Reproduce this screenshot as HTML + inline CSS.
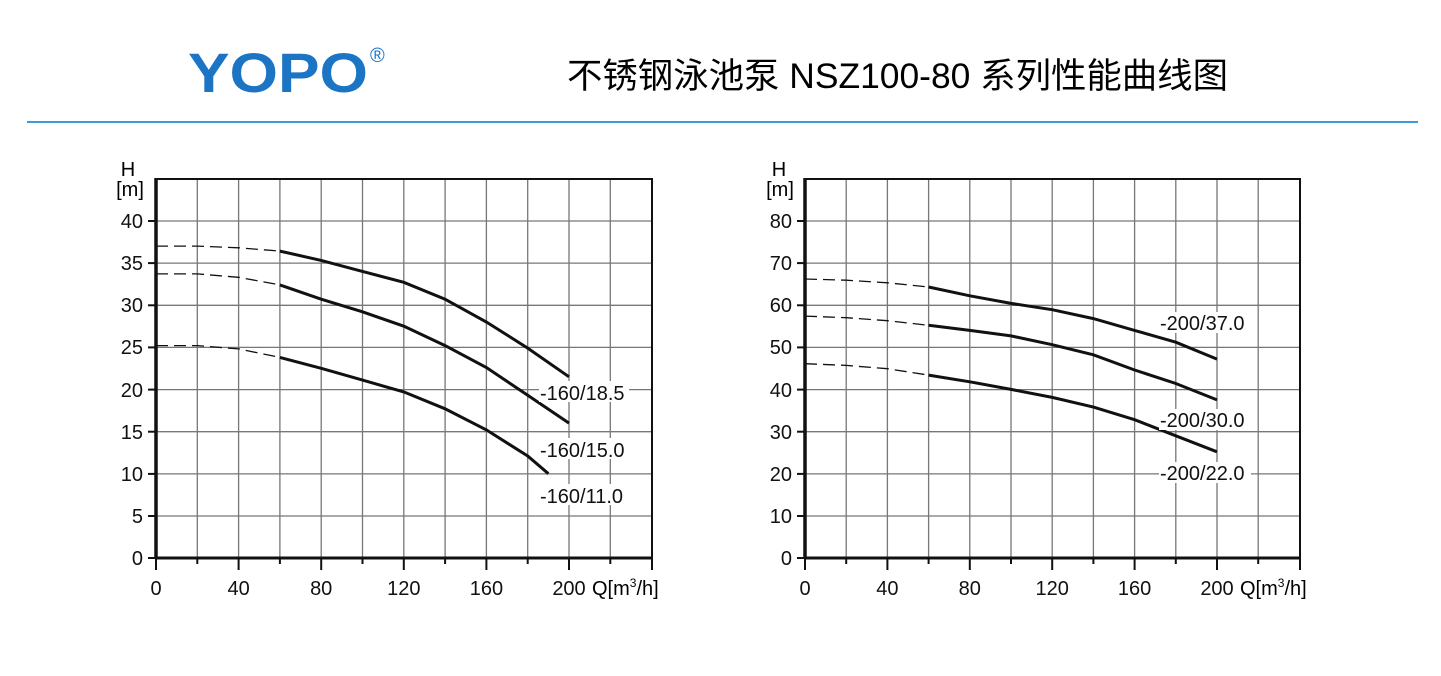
<!DOCTYPE html>
<html><head><meta charset="utf-8"><style>
body{margin:0;background:#fff;}
svg{display:block}
</style></head><body>
<svg width="1441" height="676" xmlns="http://www.w3.org/2000/svg" font-family="Liberation Sans, Arial, sans-serif">
<rect width="1441" height="676" fill="#fff"/>
<text x="188" y="92" font-size="56" font-weight="bold" fill="#1b75c4" textLength="180" lengthAdjust="spacingAndGlyphs">YOPO</text>
<text x="370" y="62" font-size="20" fill="#1b75c4">®</text>
<text x="567" y="88" font-size="35" fill="#000" textLength="661" lengthAdjust="spacingAndGlyphs" font-family="Liberation Sans, Noto Sans CJK SC, sans-serif">不锈钢泳池泵 NSZ100-80 系列性能曲线图</text>
<line x1="27" y1="122" x2="1418" y2="122" stroke="#3d9bd6" stroke-width="2"/>

<!-- LEFT CHART -->
<g stroke="#777" stroke-width="1.3">
<line x1="197.3" y1="179" x2="197.3" y2="558"/><line x1="238.6" y1="179" x2="238.6" y2="558"/><line x1="279.9" y1="179" x2="279.9" y2="558"/><line x1="321.2" y1="179" x2="321.2" y2="558"/><line x1="362.5" y1="179" x2="362.5" y2="558"/><line x1="403.8" y1="179" x2="403.8" y2="558"/><line x1="445.1" y1="179" x2="445.1" y2="558"/><line x1="486.4" y1="179" x2="486.4" y2="558"/><line x1="527.7" y1="179" x2="527.7" y2="558"/><line x1="569" y1="179" x2="569" y2="558"/><line x1="610.3" y1="179" x2="610.3" y2="558"/>
<line x1="156" y1="221" x2="652" y2="221"/><line x1="156" y1="263.1" x2="652" y2="263.1"/><line x1="156" y1="305.3" x2="652" y2="305.3"/><line x1="156" y1="347.4" x2="652" y2="347.4"/><line x1="156" y1="389.6" x2="652" y2="389.6"/><line x1="156" y1="431.7" x2="652" y2="431.7"/><line x1="156" y1="473.9" x2="652" y2="473.9"/><line x1="156" y1="516" x2="652" y2="516"/>
</g>
<rect x="156" y="179" width="496" height="379" fill="none" stroke="#111" stroke-width="2"/>
<line x1="156" y1="178" x2="156" y2="559" stroke="#111" stroke-width="3.5"/>
<line x1="155" y1="558" x2="653" y2="558" stroke="#111" stroke-width="3"/>
<g stroke="#111" stroke-width="2">
<line x1="148" y1="221" x2="156" y2="221"/><line x1="148" y1="263.1" x2="156" y2="263.1"/><line x1="148" y1="305.3" x2="156" y2="305.3"/><line x1="148" y1="347.4" x2="156" y2="347.4"/><line x1="148" y1="389.6" x2="156" y2="389.6"/><line x1="148" y1="431.7" x2="156" y2="431.7"/><line x1="148" y1="473.9" x2="156" y2="473.9"/><line x1="148" y1="516" x2="156" y2="516"/><line x1="148" y1="558" x2="156" y2="558"/>
<line x1="156" y1="558" x2="156" y2="570"/><line x1="197.3" y1="558" x2="197.3" y2="564"/><line x1="238.6" y1="558" x2="238.6" y2="570"/><line x1="279.9" y1="558" x2="279.9" y2="564"/><line x1="321.2" y1="558" x2="321.2" y2="570"/><line x1="362.5" y1="558" x2="362.5" y2="564"/><line x1="403.8" y1="558" x2="403.8" y2="570"/><line x1="445.1" y1="558" x2="445.1" y2="564"/><line x1="486.4" y1="558" x2="486.4" y2="570"/><line x1="527.7" y1="558" x2="527.7" y2="564"/><line x1="569" y1="558" x2="569" y2="570"/><line x1="610.3" y1="558" x2="610.3" y2="564"/><line x1="652" y1="558" x2="652" y2="570"/>
</g>
<g font-size="20" fill="#111" text-anchor="end">
<text x="143" y="228">40</text><text x="143" y="270">35</text><text x="143" y="312">30</text><text x="143" y="354">25</text><text x="143" y="397">20</text><text x="143" y="439">15</text><text x="143" y="481">10</text><text x="143" y="523">5</text><text x="143" y="565">0</text>
</g>
<text x="128" y="176" font-size="20" text-anchor="middle">H</text>
<text x="130" y="196" font-size="20" text-anchor="middle">[m]</text>
<g font-size="20" fill="#111" text-anchor="middle">
<text x="156" y="595">0</text><text x="238.6" y="595">40</text><text x="321.2" y="595">80</text><text x="403.8" y="595">120</text><text x="486.4" y="595">160</text><text x="569" y="595">200</text>
</g>
<text x="592" y="595" font-size="20">Q[m<tspan font-size="12" dy="-8">3</tspan><tspan dy="8">/h]</tspan></text>
<g fill="none" stroke="#111">
<polyline stroke-width="1.3" stroke-dasharray="12,6" points="156,246.1 197.3,246.1 238.6,247.8 279.9,251.1"/>
<polyline stroke-width="3" points="279.9,251.1 321.2,260.4 362.5,271.4 403.8,282.3 445.1,299.2 486.4,322 527.7,348.1 569,376.8"/>
<polyline stroke-width="1.3" stroke-dasharray="12,6" points="156,273.9 197.3,273.9 238.6,277.3 279.9,284.9"/>
<polyline stroke-width="3" points="279.9,284.9 321.2,299.2 362.5,311.8 403.8,326.2 445.1,345.6 486.4,367.5 527.7,395.3 569,423.1"/>
<polyline stroke-width="1.3" stroke-dasharray="12,6" points="156,345.6 197.3,345.6 238.6,348.9 279.9,357.4"/>
<polyline stroke-width="3" points="279.9,357.4 321.2,368.3 362.5,380.1 403.8,391.9 445.1,408.8 486.4,429.9 527.7,456 548.4,473.7"/>
</g>
<g font-size="20" fill="#111">
<rect x="539" y="381" width="90" height="21" fill="#fff"/><text x="540" y="400">-160/18.5</text>
<rect x="539" y="438" width="90" height="21" fill="#fff"/><text x="540" y="457">-160/15.0</text>
<rect x="539" y="484" width="90" height="21" fill="#fff"/><text x="540" y="503">-160/11.0</text>
</g>

<!-- RIGHT CHART -->
<g stroke="#777" stroke-width="1.3">
<line x1="846.2" y1="179" x2="846.2" y2="558"/><line x1="887.4" y1="179" x2="887.4" y2="558"/><line x1="928.6" y1="179" x2="928.6" y2="558"/><line x1="969.8" y1="179" x2="969.8" y2="558"/><line x1="1011" y1="179" x2="1011" y2="558"/><line x1="1052.2" y1="179" x2="1052.2" y2="558"/><line x1="1093.4" y1="179" x2="1093.4" y2="558"/><line x1="1134.6" y1="179" x2="1134.6" y2="558"/><line x1="1175.8" y1="179" x2="1175.8" y2="558"/><line x1="1217" y1="179" x2="1217" y2="558"/><line x1="1258.2" y1="179" x2="1258.2" y2="558"/>
<line x1="805" y1="221" x2="1300" y2="221"/><line x1="805" y1="263.1" x2="1300" y2="263.1"/><line x1="805" y1="305.3" x2="1300" y2="305.3"/><line x1="805" y1="347.4" x2="1300" y2="347.4"/><line x1="805" y1="389.6" x2="1300" y2="389.6"/><line x1="805" y1="431.7" x2="1300" y2="431.7"/><line x1="805" y1="473.9" x2="1300" y2="473.9"/><line x1="805" y1="516" x2="1300" y2="516"/>
</g>
<rect x="805" y="179" width="495" height="379" fill="none" stroke="#111" stroke-width="2"/>
<line x1="805" y1="178" x2="805" y2="559" stroke="#111" stroke-width="3.5"/>
<line x1="804" y1="558" x2="1301" y2="558" stroke="#111" stroke-width="3"/>
<g stroke="#111" stroke-width="2">
<line x1="797" y1="221" x2="805" y2="221"/><line x1="797" y1="263.1" x2="805" y2="263.1"/><line x1="797" y1="305.3" x2="805" y2="305.3"/><line x1="797" y1="347.4" x2="805" y2="347.4"/><line x1="797" y1="389.6" x2="805" y2="389.6"/><line x1="797" y1="431.7" x2="805" y2="431.7"/><line x1="797" y1="473.9" x2="805" y2="473.9"/><line x1="797" y1="516" x2="805" y2="516"/><line x1="797" y1="558" x2="805" y2="558"/>
<line x1="805" y1="558" x2="805" y2="570"/><line x1="846.2" y1="558" x2="846.2" y2="564"/><line x1="887.4" y1="558" x2="887.4" y2="570"/><line x1="928.6" y1="558" x2="928.6" y2="564"/><line x1="969.8" y1="558" x2="969.8" y2="570"/><line x1="1011" y1="558" x2="1011" y2="564"/><line x1="1052.2" y1="558" x2="1052.2" y2="570"/><line x1="1093.4" y1="558" x2="1093.4" y2="564"/><line x1="1134.6" y1="558" x2="1134.6" y2="570"/><line x1="1175.8" y1="558" x2="1175.8" y2="564"/><line x1="1217" y1="558" x2="1217" y2="570"/><line x1="1258.2" y1="558" x2="1258.2" y2="564"/><line x1="1300" y1="558" x2="1300" y2="570"/>
</g>
<g font-size="20" fill="#111" text-anchor="end">
<text x="792" y="228">80</text><text x="792" y="270">70</text><text x="792" y="312">60</text><text x="792" y="354">50</text><text x="792" y="397">40</text><text x="792" y="439">30</text><text x="792" y="481">20</text><text x="792" y="523">10</text><text x="792" y="565">0</text>
</g>
<text x="779" y="176" font-size="20" text-anchor="middle">H</text>
<text x="780" y="196" font-size="20" text-anchor="middle">[m]</text>
<g font-size="20" fill="#111" text-anchor="middle">
<text x="805" y="595">0</text><text x="887.4" y="595">40</text><text x="969.8" y="595">80</text><text x="1052.2" y="595">120</text><text x="1134.6" y="595">160</text><text x="1217" y="595">200</text>
</g>
<text x="1240" y="595" font-size="20">Q[m<tspan font-size="12" dy="-8">3</tspan><tspan dy="8">/h]</tspan></text>
<g fill="none" stroke="#111">
<polyline stroke-width="1.3" stroke-dasharray="12,6" points="805,279 846.2,280.2 887.4,282.8 928.6,287"/>
<polyline stroke-width="3" points="928.6,287 969.8,295.8 1011,303.4 1052.2,309.7 1093.4,318.6 1134.6,330.4 1175.8,342.2 1217,359.1"/>
<polyline stroke-width="1.3" stroke-dasharray="12,6" points="805,316.1 846.2,317.7 887.4,320.7 928.6,325.3"/>
<polyline stroke-width="3" points="928.6,325.3 969.8,330.4 1011,335.9 1052.2,344.7 1093.4,354.8 1134.6,370 1175.8,383.5 1217,399.9"/>
<polyline stroke-width="1.3" stroke-dasharray="12,6" points="805,363.7 846.2,365.4 887.4,368.7 928.6,375.1"/>
<polyline stroke-width="3" points="928.6,375.1 969.8,381.8 1011,389.4 1052.2,397.4 1093.4,407.1 1134.6,419.7 1175.8,435.8 1217,451.8"/>
</g>
<g font-size="20" fill="#111">
<rect x="1159" y="312" width="92" height="21" fill="#fff"/><text x="1160" y="330">-200/37.0</text>
<rect x="1159" y="409" width="92" height="21" fill="#fff"/><text x="1160" y="427">-200/30.0</text>
<rect x="1159" y="462" width="92" height="21" fill="#fff"/><text x="1160" y="480">-200/22.0</text>
</g>
</svg>
</body></html>
